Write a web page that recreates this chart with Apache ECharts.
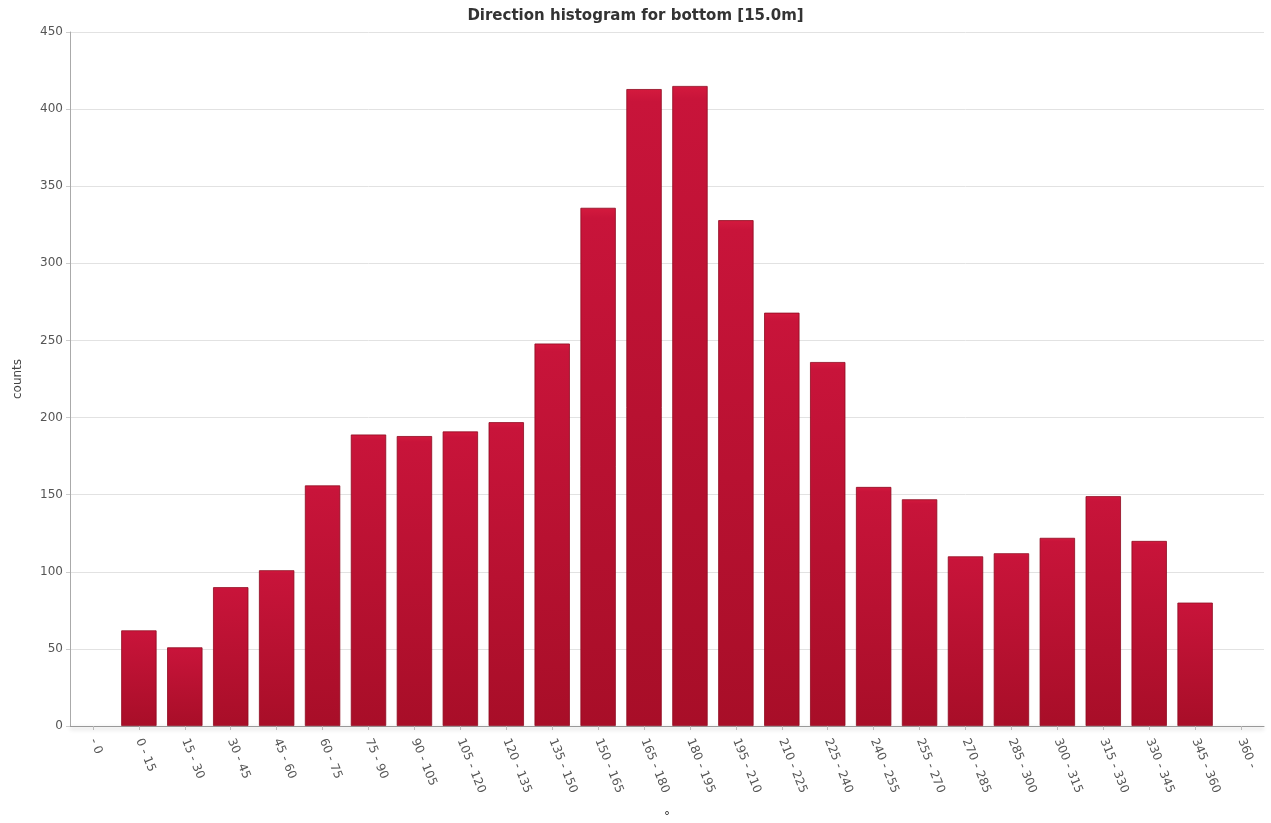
<!DOCTYPE html>
<html>
<head>
<meta charset="utf-8">
<script src="https://cdn.jsdelivr.net/npm/echarts@6/dist/echarts.min.js"></script>
<style>
html,body{margin:0;padding:0;background:#fff;}
#chart{width:1271px;height:823px;}
</style>
</head>
<body>
<div id="chart"></div>
<script>
const categories = ["- 0","0 - 15","15 - 30","30 - 45","45 - 60","60 - 75","75 - 90","90 - 105","105 - 120","120 - 135","135 - 150","150 - 165","165 - 180","180 - 195","195 - 210","210 - 225","225 - 240","240 - 255","255 - 270","270 - 285","285 - 300","300 - 315","315 - 330","330 - 345","345 - 360","360 -"];
const counts = [0,62,51,90,101,156,189,188,191,197,248,336,413,415,328,268,236,155,147,110,112,122,149,120,80,0];
const yTicks = {min:0, max:450, interval:50};
const titleText = "Direction histogram for bottom [15.0m]";
const yName = "counts";
const xName = "°";

const chart = echarts.init(document.getElementById('chart'));
const font = "DejaVu Sans, Verdana, sans-serif";
chart.setOption({
  animation:false,
  backgroundColor:'#fff',
  title:{text:titleText,left:'center',top:4,textStyle:{fontFamily:font,fontSize:15,fontWeight:'bold',color:'#333'}},
  grid:{left:70,right:7,top:32,bottom:97,containLabel:false,outerBoundsMode:'none'},
  xAxis:{
    type:'category',data:categories,
    name:xName,nameLocation:'middle',nameGap:85,
    nameTextStyle:{fontFamily:font,fontSize:12,color:'#333'},
    axisLine:{show:true,lineStyle:{color:'#999',width:1,shadowColor:'rgba(0,0,0,0.3)',shadowBlur:4,shadowOffsetY:2}},
    axisTick:{show:true,alignWithLabel:true,length:4,lineStyle:{color:'#bbb'}},
    axisLabel:{rotate:-68,interval:0,fontFamily:font,fontSize:12,color:'#555',margin:13}
  },
  yAxis:{
    type:'value',min:yTicks.min,max:yTicks.max,interval:yTicks.interval,
    name:yName,nameLocation:'middle',nameGap:46,nameRotate:90,
    nameTextStyle:{fontFamily:font,fontSize:12,color:'#444'},
    axisLine:{show:true,lineStyle:{color:'#aaa'}},
    axisTick:{show:true,length:4,lineStyle:{color:'#ccc'}},
    splitLine:{show:true,lineStyle:{color:'#e2e2e2'}},
    axisLabel:{fontFamily:font,fontSize:12,color:'#555',margin:7}
  },
  series:[{
    type:'bar',data:counts.map(v => v === 0 ? null : v),barCategoryGap:'23%',
    itemStyle:{
      color:new echarts.graphic.LinearGradient(0,0,0,1,[
        {offset:0,color:'#d41a3e'},{offset:0.02,color:'#c8143a'},{offset:1,color:'#a80e28'}
      ]),
      borderColor:'#8e0a20',borderWidth:0.8
    }
  }]
});
</script>
</body>
</html>
